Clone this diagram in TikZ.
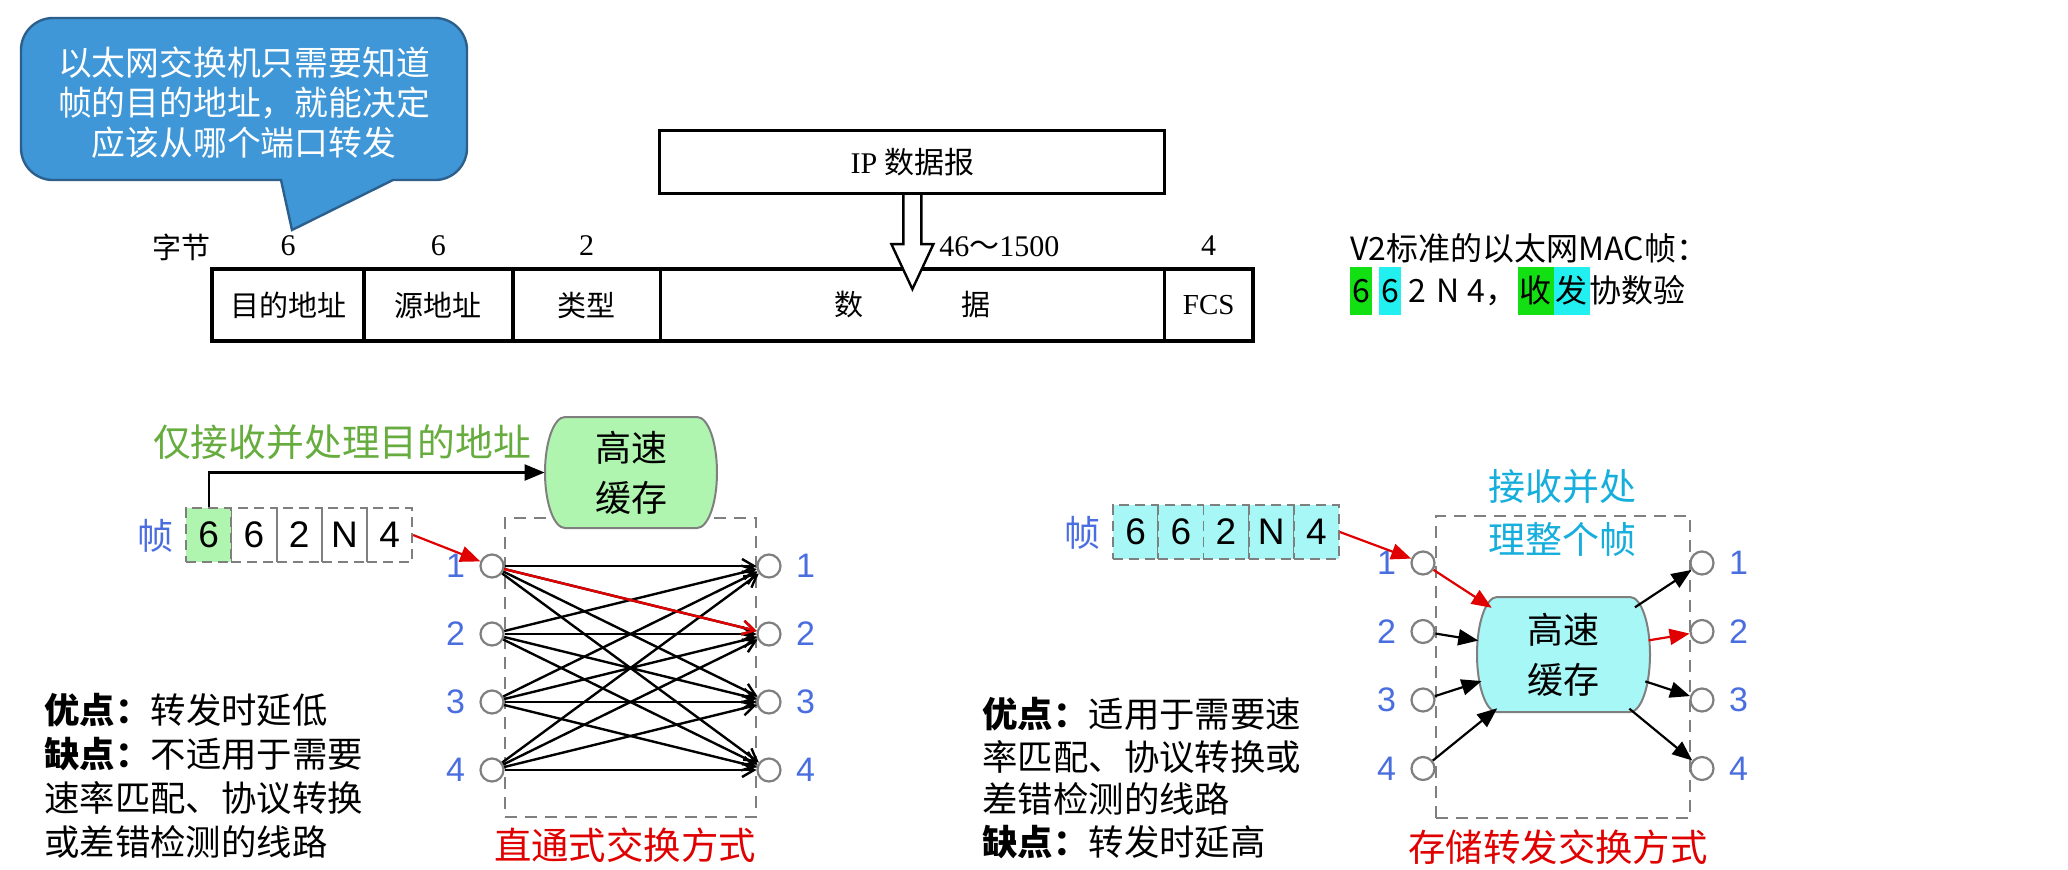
\documentclass[tikz,border=0pt]{standalone}
\usepackage{fontspec}
\setmainfont{Noto Sans CJK SC}
\newfontfamily\tms{Liberation Serif}
\newfontfamily\arial{Liberation Sans}
\newfontfamily\cjk{Noto Sans CJK SC}
\usetikzlibrary{arrows.meta,positioning,calc,shapes.misc}
\definecolor{bubfill}{HTML}{3F97D8}
\definecolor{bubline}{HTML}{2C5F8C}
\definecolor{leaf}{HTML}{66AC3E}
\definecolor{mint}{HTML}{AFF5AF}
\definecolor{aqua}{HTML}{A8F7F7}
\definecolor{sky}{HTML}{16AEDC}
\definecolor{portblue}{HTML}{4A6EDF}
\definecolor{dashgray}{HTML}{7F7F7F}
\definecolor{hlgreen}{HTML}{12E012}
\definecolor{hlcyan}{HTML}{22F0F0}
\definecolor{redink}{HTML}{E00000}
\newcommand{\hlmark}[2]{{\setlength{\fboxsep}{1pt}\colorbox{#1}{\rule[-5.5pt]{0pt}{22pt}#2}}}
\tikzset{
  bubtext/.style={align=center,text=white,inner sep=0pt,font=\fontsize{16.9}{20}\selectfont},
  cell/.style={draw=black,line width=.9pt,minimum height=35pt,inner sep=0pt,font=\fontsize{14.5}{16}\selectfont},
  num/.style={inner sep=0pt,font=\tms\fontsize{15}{17}\selectfont},
  ipbox/.style={draw=black,line width=1.5pt,minimum width=252.5pt,minimum height=31.5pt,inner sep=0pt,font=\fontsize{15}{17}\selectfont},
  v2note/.style={align=left,inner sep=0pt,font=\fontsize{16}{21}\selectfont},
  frm/.style={draw=dashgray,line width=.9pt,dash pattern=on 5pt off 3pt,minimum width=22.6pt,minimum height=27pt,inner sep=0pt,font=\arial\fontsize{18.5}{20}\selectfont},
  zhen/.style={inner sep=0pt,text=portblue,font=\fontsize{18}{20}\selectfont},
  port/.style={circle,draw=dashgray,line width=1.1pt,fill=white,minimum size=11.5pt,inner sep=0pt},
  portno/.style={inner sep=0pt,text=portblue,font=\arial\fontsize{17}{19}\selectfont},
  swbox/.style={draw=dashgray,line width=1pt,dash pattern=on 6pt off 4pt,inner sep=0pt},
  cache/.style={rounded rectangle,rounded rectangle arc length=90,minimum width=86pt,minimum height=55.5pt,align=center,inner sep=0pt,font=\fontsize{18}{25}\selectfont},
  cacheline/.style={draw=dashgray,line width=1pt},
  xbar/.style={-{Straight Barb[length=6pt,width=7pt]},line width=1.2pt},
  ar/.style={-{Triangle[length=10pt,width=8pt]},line width=1.1pt},
  rar/.style={ar,draw=redink},
  note/.style={align=left,inner sep=0pt,font=\fontsize{17.7}{22}\selectfont},
  greenlbl/.style={inner sep=0pt,text=leaf,font=\fontsize{18.9}{21}\selectfont},
  cyanlbl/.style={align=center,inner sep=0pt,text=sky,font=\fontsize{18.5}{26.5}\selectfont},
  redtitle/.style={inner sep=0pt,text=redink,font=\fontsize{18.7}{21}\selectfont},
}
\begin{document}
\begin{tikzpicture}[x=0.5pt,y=0.5pt]
  \fill[white] (0,0) rectangle (2068,-869);
  \useasboundingbox (0,0) rectangle (2068,-869);
  % speech bubble
  \filldraw[fill=bubfill,draw=bubline,line width=1.2pt]
    (53,-18) -- (435,-18) arc[start angle=90,end angle=0,radius=32] -- (467,-148)
    arc[start angle=0,end angle=-90,radius=32] -- (393,-180) -- (292,-230) -- (281,-180)
    -- (53,-180) arc[start angle=270,end angle=180,radius=32] -- (21,-50)
    arc[start angle=180,end angle=90,radius=32] -- cycle;
  \node[bubtext] (hint) at (244,-103) {以太网交换机只需要知道\\帧的目的地址，就能决定\\应该从哪个端口转发};
  % MAC frame
  \node[cell,minimum width=75pt] (dst) at (288,-305) {目的地址};
  \node[cell,minimum width=73.5pt,right=0pt of dst] (src) {源地址};
  \node[cell,minimum width=73pt,right=0pt of src] (typ) {类型};
  \node[cell,minimum width=251pt,right=0pt of typ] (dat) {数\hspace{3.4em}据};
  \node[cell,minimum width=43.5pt,right=0pt of dat] (fcs) {\tms FCS};
  \draw[line width=2pt] (dst.north west) rectangle (fcs.south east);
  \node[num,font=\fontsize{14.5}{16}\selectfont] (unit) at (181,-247) {字节};
  \node[num,above=6.5pt of dst] (n1) {6};
  \node[num,above=6.5pt of src] (n2) {6};
  \node[num,above=6.5pt of typ] (n3) {2};
  \node[num,anchor=south west] (n4) at (939,-257) {46{\cjk ～}1500};
  \node[num,above=6.5pt of fcs] (n5) {4};
  \node[ipbox,above=37pt of dat] (ip) {{\tms IP} 数据报};
  \filldraw[fill=white,line width=1.2pt] ($(ip.south)+(-9,0)$) -- ++(0,-49) -- ++(-12,0)
    -- ($(ip.south)+(0,-94)$) -- ++(21,45) -- ++(-12,0) -- ++(0,49);
  \node[v2note,anchor=west] (v2) at (1350,-274) {V2标准的以太网MAC帧：\\\hlmark{hlgreen}{6}\hspace{3.5pt}\hlmark{hlcyan}{6}\hspace{4pt}2\hspace{5pt}N\hspace{4pt}4，\hlmark{hlgreen}{收}\hlmark{hlcyan}{发}协数验};
  % cut-through switching
  \node[greenlbl] (onlyA) at (342,-442) {仅接收并处理目的地址};
  \node[swbox,minimum width=125.5pt,minimum height=149.5pt] (swA) at (630.5,-667.5) {};
  \filldraw[cacheline,fill=mint] (565,-417) -- (697,-417) arc[start angle=90,end angle=-90,x radius=20,y radius=55.5]
    -- (565,-528) arc[start angle=270,end angle=90,x radius=20,y radius=55.5] -- cycle;
  \node[cache] (bufA) at (631,-472.5) {高速\\缓存};
  \node[zhen] (zhenA) at (155,-536) {帧};
  \node[frm,fill=mint] (fa1) at (208.6,-535) {6};
  \foreach \t [count=\i from 2] in {6,2,N,4}
    \node[frm] (fa\i) at (163.6+45.2*\i,-535) {\t};
  \foreach \k in {1,...,4} {
    \node[port] (La\k) at (492,-498-68*\k) {};
    \node[port] (Ra\k) at (769,-498-68*\k) {};
    \node[portno,left=7pt of La\k] (numLa\k) {\k};
    \node[portno,right=7pt of Ra\k] (numRa\k) {\k};
  }
  \foreach \i in {1,...,4} \foreach \j in {1,...,4} \draw[xbar] (La\i) -- (Ra\j);
  \draw[xbar,draw=redink] (La1) -- (Ra2);
  \draw[rar] (fa5.east) -- (La1);
  \draw[ar] (fa1.north) |- (bufA.west);
  \node[note,anchor=west] (noteA) at (44,-776) {\textbf{优点：}转发时延低\\\textbf{缺点：}不适用于需要\\速率匹配、协议转换\\或差错检测的线路};
  \node[redtitle] (titleA) at (625,-845) {直通式交换方式};
  % store-and-forward switching
  \node[zhen] (zhenB) at (1082,-533) {帧};
  \foreach \t [count=\i] in {6,6,2,N,4}
    \node[frm,fill=aqua] (fb\i) at (1090.4+45.2*\i,-532) {\t};
  \node[cyanlbl] (wholeB) at (1562,-513) {接收并处\\理整个帧};
  \node[swbox,minimum width=127pt,minimum height=151pt] (swB) at (1563,-667) {};
  \filldraw[cacheline,fill=aqua] (1497,-597) -- (1630,-597) arc[start angle=90,end angle=-90,x radius=20,y radius=57.5]
    -- (1497,-712) arc[start angle=270,end angle=90,x radius=20,y radius=57.5] -- cycle;
  \node[cache,minimum height=57.5pt] (bufB) at (1563.5,-654.5) {高速\\缓存};
  \foreach \k in {1,...,4} {
    \node[port] (Lb\k) at (1423,-494.5-68.5*\k) {};
    \node[port] (Rb\k) at (1702,-494.5-68.5*\k) {};
    \node[portno,left=7pt of Lb\k] (numLb\k) {\k};
    \node[portno,right=7pt of Rb\k] (numRb\k) {\k};
  }
  \draw[rar] (fb5.east) -- (Lb1);
  \draw[rar] (Lb1) -- (bufB);
  \foreach \k in {2,3,4} \draw[ar] (Lb\k) -- (bufB);
  \foreach \k in {1,3,4} \draw[ar] (bufB) -- (Rb\k);
  \draw[rar] (bufB) -- (Rb2);
  \node[note,anchor=west,font=\fontsize{17.7}{21.2}\selectfont] (noteB) at (982,-778) {\textbf{优点：}适用于需要速\\率匹配、协议转换或\\差错检测的线路\\\textbf{缺点：}转发时延高};
  \node[redtitle] (titleB) at (1558,-847) {存储转发交换方式};
\end{tikzpicture}
\end{document}
